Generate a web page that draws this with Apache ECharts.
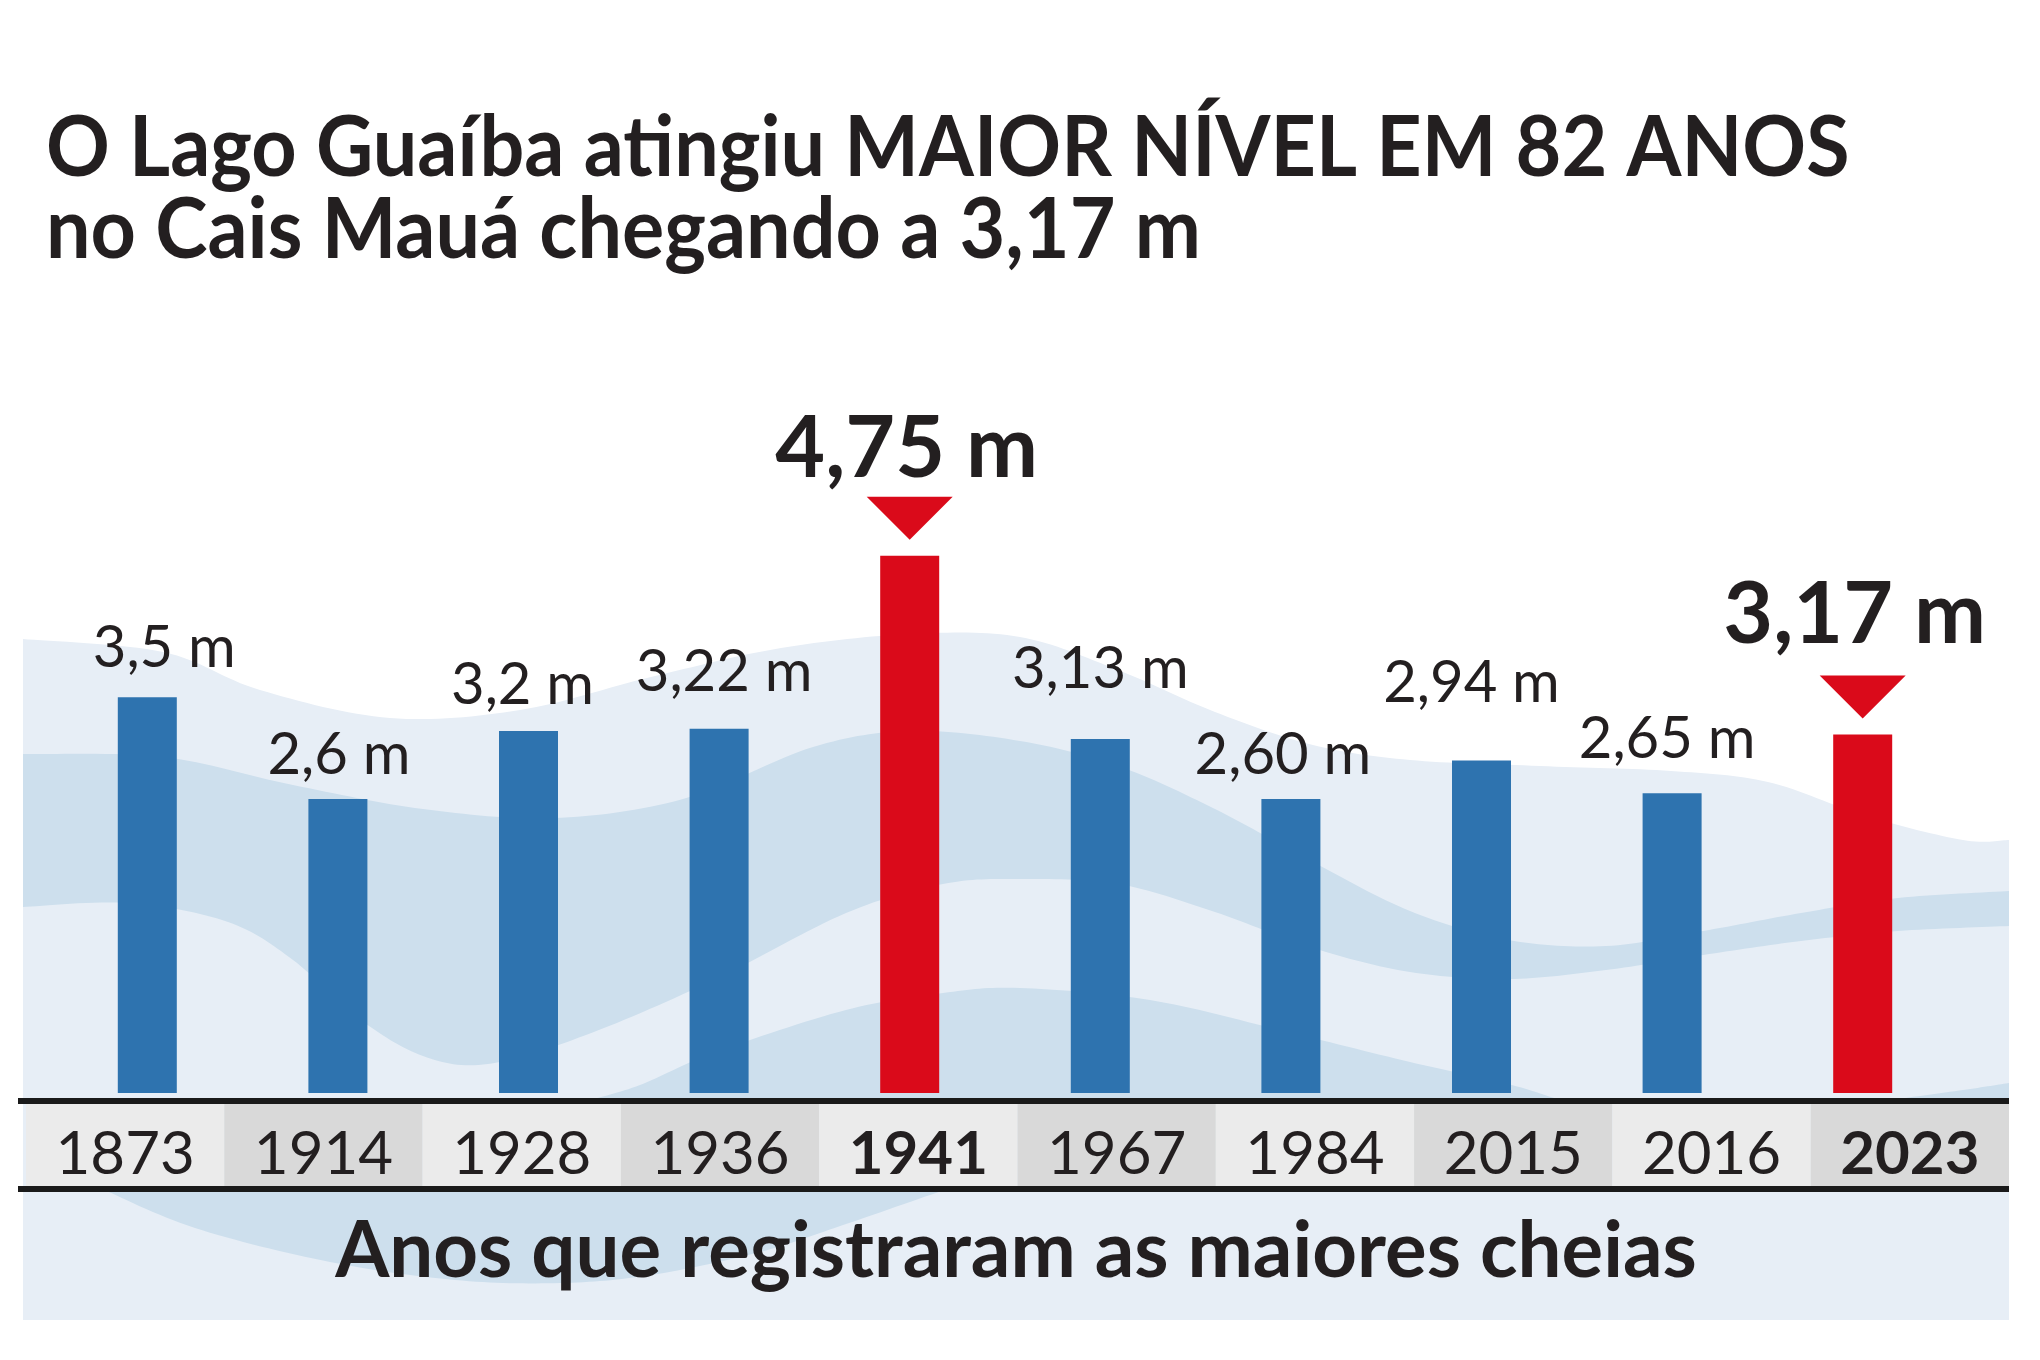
<!DOCTYPE html>
<html>
<head>
<meta charset="utf-8">
<script src="https://cdn.jsdelivr.net/npm/echarts@6/dist/echarts.min.js"></script>
<style>
html,body{margin:0;padding:0;background:#fff;}
#chart{width:2040px;height:1360px;}
</style>
</head>
<body>
<div id="chart"></div>
<script>
// ---- data ----
const years = ['1873', '1914', '1928', '1936', '1941', '1967', '1984', '2015', '2016', '2023'];
const levelLabels = ['3,5', '2,6', '3,2', '3,22', '4,75', '3,13', '2,60', '2,94', '2,65', '3,17'];
const highlightYears = ['1941', '2023'];
const titleText = 'O Lago Guaíba atingiu MAIOR NÍVEL EM 82 ANOS\nno Cais Mauá chegando a 3,17 m';
const axisTitle = 'Anos que registraram as maiores cheias';

const levels = levelLabels.map(s => parseFloat(s.replace(',', '.')));
const isHi = years.map(y => highlightYears.indexOf(y) >= 0);

// ---- styling ----
const BLUE = '#2e73af', RED = '#da0a1a', INK = '#231f20';
const LIGHT = '#e7eef6', MED = '#cddfed';
// small per-label nudges [dx, dy] in px (typographic placement as in the original)
const labelNudge = [[17, 4], [1, 9], [-6, 7], [5, -4], [-3, 6], [0, -17], [-8, 9], [-10, -24], [-5, -1], [-8, -6]];

// ---- decorative background waves ----
function spline(pts, seg) {
  seg = seg || 16;
  const out = [];
  for (let i = 0; i < pts.length - 1; i++) {
    const p0 = pts[Math.max(i - 1, 0)], p1 = pts[i], p2 = pts[i + 1], p3 = pts[Math.min(i + 2, pts.length - 1)];
    for (let t = 0; t < seg; t++) {
      const s = t / seg, s2 = s * s, s3 = s2 * s;
      const f = k => 0.5 * ((2 * p1[k]) + (-p0[k] + p2[k]) * s + (2 * p0[k] - 5 * p1[k] + 4 * p2[k] - p3[k]) * s2 + (-p0[k] + 3 * p1[k] - 3 * p2[k] + p3[k]) * s3);
      out.push([f(0), f(1)]);
    }
  }
  out.push(pts[pts.length - 1]);
  return out;
}
const W = [[23,639],[163,652],[260,690],[390,718],[520,710],[651,677],[781,648],[911,634],[1020,637],[1118,670],[1215,712],[1313,745],[1410,760],[1540,766],[1671,771],[1768,782],[1866,816],[1963,840],[2009,840]];
const Btop = [[23,754],[163,757],[293,785],[423,809],[553,818],[683,799],[813,747],[911,731],[1020,741],[1118,766],[1215,809],[1313,862],[1410,911],[1508,940],[1606,946],[1703,931],[1801,913],[1898,898],[2009,891]];
const Bbot = [[23,907],[130,903],[228,922],[293,960],[358,1018],[423,1056],[488,1064],[586,1035],[716,979],[846,913],[943,884],[1020,879],[1118,884],[1215,912],[1313,948],[1410,972],[1508,979],[1606,970],[1703,955],[1801,941],[1898,931],[2009,926]];
const Ctop = [[590,1100],[640,1085],[716,1052],[846,1010],[943,993],[1020,988],[1150,1000],[1280,1030],[1410,1062],[1508,1084],[1560,1100]];
const Rtop = [[1890,1100],[1963,1090],[2009,1083]];
const Sbot = [[100,1188],[195,1228],[330,1262],[455,1280],[560,1283],[651,1275],[760,1252],[846,1224],[950,1188]];

const panelPts = spline(W).concat([[2009,1320],[23,1320]]);
const bandPts = spline(Btop).concat(spline(Bbot).reverse());
const cPts = spline(Ctop);
const rPts = spline(Rtop).concat([[2009,1100]]);
const sPts = spline(Sbot).concat([[950,1186],[100,1186]]);

const chart = echarts.init(document.getElementById('chart'), null, { renderer: 'canvas' });

const option = {
  animation: false,
  backgroundColor: '#ffffff',
  textStyle: { fontFamily: 'Lato' },
  title: [
    {
      text: axisTitle, left: 1016, textAlign: 'center', top: 1213, padding: 0,
      textStyle: { fontFamily: 'Lato', fontWeight: 'bold', fontSize: 78, lineHeight: 78, color: INK }
    }
  ],
  graphic: [
    { type: 'polygon', z: -100, silent: true, shape: { points: panelPts }, style: { fill: LIGHT } },
    { type: 'polygon', z: -99, silent: true, shape: { points: bandPts }, style: { fill: MED } },
    { type: 'polygon', z: -99, silent: true, shape: { points: cPts }, style: { fill: MED } },
    { type: 'polygon', z: -99, silent: true, shape: { points: rPts }, style: { fill: MED } },
    { type: 'polygon', z: -99, silent: true, shape: { points: sPts }, style: { fill: MED } },
    { type: 'line', z: 100, silent: true, shape: { x1: 18, y1: 1101, x2: 2009, y2: 1101 }, style: { stroke: '#1a1a1a', lineWidth: 6 } },
    { type: 'line', z: 100, silent: true, shape: { x1: 18, y1: 1189, x2: 2009, y2: 1189 }, style: { stroke: '#1a1a1a', lineWidth: 6 } },
    {
      type: 'text', z: 100, silent: true, x: 46, y: 108, scaleX: 0.93,
      style: {
        text: titleText, x: 0, y: 0, fill: INK,
        font: 'bold 85px Lato', lineHeight: 82,
        textAlign: 'left', textVerticalAlign: 'top', verticalAlign: 'top'
      }
    }
  ],
  grid: [
    { left: 52, right: 82, top: 527.5, bottom: 267 },
    { left: 26, right: 31, top: 1104, height: 84 }
  ],
  xAxis: [
    {
      type: 'category', gridIndex: 0, data: years,
      axisLine: { show: false }, axisTick: { show: false }, axisLabel: { show: false }, splitLine: { show: false }
    },
    {
      type: 'category', gridIndex: 1, data: years,
      axisLine: { show: false }, axisTick: { show: false }, splitLine: { show: false },
      splitArea: { show: true, interval: 0, areaStyle: { color: ['#ebebeb', '#d9d9d9'], opacity: 1 } },
      axisLabel: {
        inside: true, margin: 33, verticalAlign: 'middle', interval: 0,
        fontFamily: 'Lato', fontSize: 60, color: INK,
        formatter: (v) => highlightYears.indexOf(v) >= 0 ? '{b|' + v + '}' : v,
        rich: { b: { fontFamily: 'Lato', fontSize: 60, fontWeight: 'bold', color: INK } }
      }
    }
  ],
  yAxis: [
    { type: 'value', gridIndex: 0, min: 0, max: 5, show: false },
    { type: 'value', gridIndex: 1, show: false }
  ],
  series: [
    {
      type: 'bar', xAxisIndex: 0, yAxisIndex: 0, barWidth: 59, z: 5,
      data: levels.map((v, i) => ({
        value: v,
        itemStyle: { color: isHi[i] ? RED : BLUE },
        label: isHi[i]
          ? { fontSize: 86, fontWeight: 'bold', distance: 70, offset: labelNudge[i] }
          : { offset: labelNudge[i] }
      })),
      label: {
        show: true, position: 'top', distance: 24,
        fontFamily: 'Lato', fontSize: 58, color: INK,
        formatter: p => levelLabels[p.dataIndex] + ' m'
      },
      emphasis: { disabled: true }
    },
    {
      type: 'scatter', xAxisIndex: 0, yAxisIndex: 0, z: 6, silent: true,
      data: levels.map((v, i) => isHi[i] ? v : '-'),
      symbol: 'triangle', symbolSize: [86, 43], symbolRotate: 180, symbolOffset: [0, -37.5],
      itemStyle: { color: RED, opacity: 1 },
      emphasis: { disabled: true }
    }
  ]
};
chart.setOption(option);
</script>
</body>
</html>
